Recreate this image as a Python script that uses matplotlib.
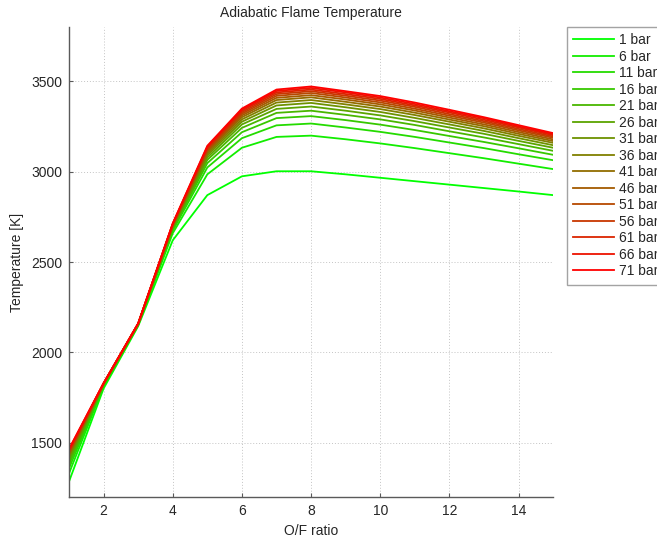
"""Adiabatic flame temperature versus O/F ratio for a range of chamber pressures."""

import matplotlib.pyplot as plt

plt.rcParams["font.family"] = ["Liberation Sans", "DejaVu Sans"]

OF_RATIO = [1, 2, 3, 4, 5, 6, 7, 8, 9, 10, 11, 12, 13, 14, 15]
PRESSURES_BAR = [1, 6, 11, 16, 21, 26, 31, 36, 41, 46, 51, 56, 61, 66, 71]

# Flame temperature [K] at each O/F ratio, one list per chamber pressure
T_1BAR = [1285, 1800, 2145, 2620, 2870, 2974, 3002, 3002, 2985, 2966, 2947, 2928, 2909, 2890, 2870]
T_6BAR = [1330, 1813, 2151, 2659, 2985, 3132, 3192, 3199, 3179, 3156, 3130, 3102, 3074, 3044, 3014]
T_11BAR = [1358, 1817, 2153, 2673, 3023, 3185, 3256, 3266, 3244, 3220, 3192, 3161, 3130, 3096, 3063]
T_16BAR = [1378, 1819, 2155, 2681, 3047, 3218, 3296, 3307, 3285, 3260, 3230, 3197, 3164, 3129, 3093]
T_21BAR = [1394, 1821, 2156, 2687, 3065, 3242, 3325, 3337, 3314, 3289, 3258, 3223, 3189, 3152, 3115]
T_26BAR = [1407, 1823, 2156, 2692, 3078, 3261, 3347, 3360, 3337, 3311, 3279, 3244, 3209, 3170, 3132]
T_31BAR = [1418, 1824, 2157, 2696, 3090, 3276, 3366, 3380, 3356, 3330, 3297, 3261, 3225, 3185, 3146]
T_36BAR = [1427, 1825, 2158, 2699, 3099, 3289, 3382, 3396, 3372, 3346, 3313, 3276, 3239, 3198, 3159]
T_41BAR = [1435, 1826, 2158, 2702, 3108, 3301, 3396, 3411, 3386, 3360, 3326, 3288, 3251, 3209, 3169]
T_46BAR = [1442, 1827, 2158, 2704, 3115, 3311, 3408, 3423, 3399, 3372, 3338, 3299, 3261, 3219, 3178]
T_51BAR = [1448, 1828, 2159, 2707, 3122, 3320, 3419, 3435, 3410, 3383, 3348, 3309, 3271, 3228, 3187]
T_56BAR = [1453, 1828, 2159, 2709, 3128, 3328, 3429, 3445, 3420, 3393, 3358, 3318, 3279, 3236, 3194]
T_61BAR = [1458, 1829, 2159, 2710, 3133, 3336, 3438, 3454, 3429, 3402, 3366, 3327, 3287, 3244, 3201]
T_66BAR = [1462, 1829, 2160, 2712, 3138, 3343, 3446, 3463, 3438, 3410, 3374, 3334, 3295, 3250, 3207]
T_71BAR = [1466, 1830, 2160, 2714, 3143, 3349, 3454, 3471, 3445, 3418, 3382, 3342, 3301, 3257, 3213]

TEMPERATURES = [
    T_1BAR, T_6BAR, T_11BAR, T_16BAR, T_21BAR, T_26BAR, T_31BAR, T_36BAR,
    T_41BAR, T_46BAR, T_51BAR, T_56BAR, T_61BAR, T_66BAR, T_71BAR,
]

X_TICKS = [2, 4, 6, 8, 10, 12, 14]
Y_TICKS = [1500, 2000, 2500, 3000, 3500]

TEXT_COLOR = "#262626"
AXIS_COLOR = "#5a5a5a"
FONT_SIZE = 10


def main() -> None:
    fig = plt.figure(figsize=(6.57, 5.38), dpi=100)
    ax = fig.add_axes([0.105, 0.0762, 0.737, 0.8736])

    n = len(PRESSURES_BAR)
    for i, (pressure, temps) in enumerate(zip(PRESSURES_BAR, TEMPERATURES)):
        frac = i / (n - 1)
        ax.plot(OF_RATIO, temps, color=(frac, 1 - frac, 0), lw=1.3, label=f"{pressure} bar")

    ax.set_xlim(1, 15)
    ax.set_ylim(1200, 3800)
    ax.set_xticks(X_TICKS)
    ax.set_yticks(Y_TICKS)

    ax.grid(True, color="#c4c4c4", linestyle=(0, (1, 2)), linewidth=0.7)
    ax.set_axisbelow(True)
    for side in ("top", "right"):
        ax.spines[side].set_visible(False)
    for side in ("left", "bottom"):
        ax.spines[side].set_color(AXIS_COLOR)
        ax.spines[side].set_linewidth(1.0)
    ax.tick_params(direction="in", length=3, color=AXIS_COLOR, labelsize=FONT_SIZE,
                   labelcolor=TEXT_COLOR, pad=5)

    ax.set_title("Adiabatic Flame Temperature", fontsize=FONT_SIZE, color=TEXT_COLOR, pad=7)
    ax.set_xlabel("O/F ratio", fontsize=FONT_SIZE, color=TEXT_COLOR, labelpad=4)
    ax.set_ylabel("Temperature [K]", fontsize=FONT_SIZE, color=TEXT_COLOR, labelpad=5)

    # legend sits right of the axes and runs past the figure edge
    legend = ax.legend(
        loc="upper left",
        bbox_to_anchor=(567 / 657, 1 - 27 / 538),
        bbox_transform=fig.transFigure,
        fontsize=FONT_SIZE,
        frameon=True,
        fancybox=False,
        handlelength=2.95,
        handletextpad=0.36,
        labelspacing=0.18,
        borderpad=0.45,
        borderaxespad=0,
    )
    legend.get_frame().set_edgecolor("#8c8c8c")
    legend.get_frame().set_linewidth(1.0)
    for text in legend.get_texts():
        text.set_color(TEXT_COLOR)

    fig.savefig("out.png", dpi=100)


if __name__ == "__main__":
    main()
